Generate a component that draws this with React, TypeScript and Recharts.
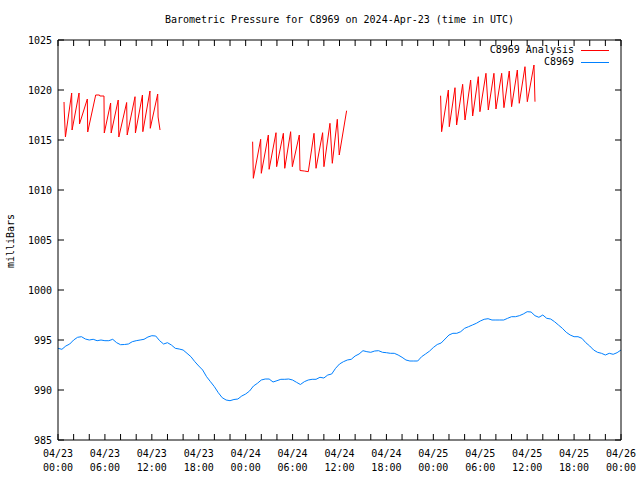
import React from 'react';
import { LineChart, Line, XAxis, YAxis } from 'recharts';

// Observed pressure (C8969), every half hour from 04/23 00:00 UTC
const obsValues = [
  994.17, 994.07, 994.4, 994.6, 995.0, 995.27, 995.33, 995.1, 995.0, 995.07, 994.93, 995.0,
  994.93, 994.93, 995.07, 994.73, 994.53, 994.55, 994.6, 994.83, 994.93, 995.0, 995.07, 995.3,
  995.43, 995.4, 994.93, 994.6, 994.73, 994.5, 994.17, 994.1, 994.0, 993.67, 993.33, 992.83,
  992.4, 992.0, 991.33, 990.83, 990.33, 989.73, 989.23, 989.0, 988.93, 989.05, 989.1, 989.4,
  989.6, 989.9, 990.4, 990.67, 991.0, 991.1, 991.1, 990.8, 990.93, 991.07, 991.07, 991.1,
  991.0, 990.77, 990.55, 990.83, 991.0, 991.07, 991.07, 991.27, 991.2, 991.5, 991.6, 992.17,
  992.6, 992.83, 993.0, 993.07, 993.4, 993.6, 993.93, 993.83, 993.77, 993.9, 993.93, 993.77,
  993.73, 993.67, 993.67, 993.5, 993.27, 993.0, 992.9, 992.9, 992.9, 993.33, 993.6, 993.88,
  994.25, 994.55, 994.7, 995.1, 995.5, 995.67, 995.67, 995.83, 996.17, 996.33, 996.5, 996.67,
  996.9, 997.07, 997.13, 997.0, 997.0, 997.0, 997.0, 997.17, 997.33, 997.33, 997.43, 997.6,
  997.83, 997.8, 997.43, 997.27, 997.5, 997.17, 997.1, 996.83, 996.5, 996.17, 995.77, 995.5,
  995.33, 995.33, 995.17, 994.73, 994.4, 994.0, 993.77, 993.67, 993.5, 993.67, 993.57, 993.73,
  994.0,
];
const obsStepHours = 0.5;

// Analysis segments (hours since 04/23 00:00, mb)
const seg1Hours = [0.77, 0.8, 0.95, 1.75, 1.8, 2.69, 2.75, 3.75, 3.8, 4.82, 5.3, 5.35, 5.88, 5.92, 6.73, 6.8, 7.7, 7.78, 8.78, 8.85, 9.85, 9.9, 10.8, 10.85, 11.76, 11.8, 12.75, 12.8, 13.05];
const seg1Values = [1018.8, 1017.9, 1015.3, 1019.7, 1016.0, 1019.7, 1016.6, 1019.1, 1015.8, 1019.5, 1019.5, 1019.4, 1019.4, 1015.7, 1018.7, 1015.7, 1019.0, 1015.3, 1018.75, 1015.5, 1019.33, 1015.7, 1019.5, 1015.83, 1019.9, 1016.17, 1019.6, 1017.3, 1016.0];

const seg2Hours = [24.89, 24.98, 25.92, 26.0, 26.9, 27.0, 27.88, 27.96, 28.82, 29.0, 29.75, 29.97, 30.86, 30.95, 31.5, 32.01, 32.74, 33.0, 33.84, 34.01, 34.78, 35.08, 35.72, 35.97, 36.91];
const seg2Values = [1014.83, 1011.17, 1015.07, 1011.67, 1015.5, 1012.07, 1015.73, 1012.33, 1015.67, 1012.17, 1015.83, 1012.33, 1015.5, 1011.95, 1011.9, 1011.83, 1015.67, 1012.17, 1015.73, 1012.33, 1016.67, 1012.67, 1017.07, 1013.5, 1017.93];

const seg3Hours = [48.93, 49.06, 49.92, 50.04, 50.77, 50.98, 51.75, 52.05, 52.77, 53.03, 53.75, 53.96, 54.73, 55.03, 55.75, 56.01, 56.74, 57.03, 57.71, 58.01, 58.74, 58.99, 59.72, 60.02, 60.87, 61.0];
const seg3Values = [1019.43, 1015.83, 1020.0, 1016.33, 1020.23, 1016.5, 1020.57, 1017.0, 1021.0, 1017.4, 1021.33, 1017.83, 1021.67, 1018.0, 1021.67, 1018.1, 1021.67, 1018.23, 1021.9, 1018.33, 1022.0, 1018.67, 1022.33, 1018.83, 1022.5, 1018.83];

const gapHours = [13.5, 43.0];

const yTicks = [985, 990, 995, 1000, 1005, 1010, 1015, 1020, 1025];
const xMinorTicks = [0, 2, 4, 6, 8, 10, 12, 14, 16, 18, 20, 22, 24, 26, 28, 30, 32, 34, 36, 38, 40, 42, 44, 46, 48, 50, 52, 54, 56, 58, 60, 62, 64, 66, 68, 70, 72];
const xMajorTicks = [0, 6, 12, 18, 24, 30, 36, 42, 48, 54, 60, 66, 72];
const tickDates = ['04/23', '04/23', '04/23', '04/23', '04/24', '04/24', '04/24', '04/24', '04/25', '04/25', '04/25', '04/25', '04/26'];
const tickTimes = ['00:00', '06:00', '12:00', '18:00', '00:00', '06:00', '12:00', '18:00', '00:00', '06:00', '12:00', '18:00', '00:00'];

const seriesNames = ['C8969 Analysis', 'C8969'];
const seriesColors = ['#ff0000', '#0080ff'];

const FONT = '"DejaVu Sans Mono", "Liberation Mono", monospace';

const obsData = obsValues.map((v, i) => ({ h: i * obsStepHours, v }));
const toPts = (hs: number[], vs: number[]) => hs.map((h, i) => ({ h, v: vs[i] as number | null }));
const analysisData = [
  ...toPts(seg1Hours, seg1Values),
  { h: gapHours[0], v: null },
  ...toPts(seg2Hours, seg2Values),
  { h: gapHours[1], v: null },
  ...toPts(seg3Hours, seg3Values),
];

const XTick = (props: any) => {
  const { x, y, payload } = props;
  const i = xMajorTicks.indexOf(payload.value);
  if (i < 0) return <g />;
  return (
    <text x={x} y={y} textAnchor="middle" fontFamily={FONT} fontSize={10} fill="#000">
      <tspan x={x} dy={11}>{tickDates[i]}</tspan>
      <tspan x={x} dy={14}>{tickTimes[i]}</tspan>
    </text>
  );
};

const YTick = (props: any) => {
  const { x, y, payload } = props;
  return (
    <text x={x} y={y} dy={4} textAnchor="end" fontFamily={FONT} fontSize={10} fill="#000">
      {payload.value}
    </text>
  );
};

const Empty = () => <g />;

export default function App() {
  return (
    <div style={{ position: 'absolute', left: 0, top: 0, width: 640, height: 480, background: '#fff' }}>
      <div
        style={{
          position: 'absolute', left: 0, top: 13, width: 679, height: 14, lineHeight: '14px',
          textAlign: 'center', fontFamily: FONT, fontSize: 10, color: '#000', whiteSpace: 'pre',
        }}
      >
        Barometric Pressure for C8969 on 2024-Apr-23 (time in UTC)
      </div>
      <div style={{ position: 'absolute', left: 11, top: 241, width: 0, height: 0 }}>
        <div
          style={{
            position: 'absolute', left: -40, top: -7, width: 80, height: 14, lineHeight: '14px',
            textAlign: 'center', transform: 'rotate(-90deg)', fontFamily: FONT, fontSize: 10, color: '#000',
          }}
        >
          milliBars
        </div>
      </div>
      <LineChart width={640} height={480} margin={{ top: 30, right: 9, bottom: 10, left: 8 }}>
        <XAxis
          xAxisId="b"
          type="number"
          dataKey="h"
          domain={[0, 72]}
          ticks={xMinorTicks}
          interval={0}
          allowDataOverflow
          orientation="bottom"
          height={30}
          tickSize={-6}
          tickMargin={12}
          stroke="#000"
          tick={<XTick />}
        />
        <XAxis
          xAxisId="t"
          type="number"
          dataKey="h"
          domain={[0, 72]}
          ticks={xMinorTicks}
          interval={0}
          allowDataOverflow
          orientation="top"
          height={10}
          tickSize={-6}
          stroke="#000"
          tick={<Empty />}
        />
        <YAxis
          yAxisId="l"
          type="number"
          domain={[985, 1025]}
          ticks={yTicks}
          interval={0}
          allowDataOverflow
          orientation="left"
          width={50}
          tickSize={-6}
          tickMargin={12}
          stroke="#000"
          tick={<YTick />}
        />
        <YAxis
          yAxisId="r"
          type="number"
          domain={[985, 1025]}
          ticks={yTicks}
          interval={0}
          allowDataOverflow
          orientation="right"
          width={10}
          tickSize={-6}
          stroke="#000"
          tick={<Empty />}
        />
        <Line
          xAxisId="b"
          yAxisId="l"
          data={analysisData}
          dataKey="v"
          name={seriesNames[0]}
          stroke={seriesColors[0]}
          strokeWidth={1}
          dot={false}
          activeDot={false}
          type="linear"
          isAnimationActive={false}
        />
        <Line
          xAxisId="b"
          yAxisId="l"
          data={obsData}
          dataKey="v"
          name={seriesNames[1]}
          stroke={seriesColors[1]}
          strokeWidth={1}
          dot={false}
          activeDot={false}
          type="linear"
          isAnimationActive={false}
        />
      </LineChart>
      <div style={{ position: 'absolute', left: 0, top: 44, width: 609, fontFamily: FONT, fontSize: 10, color: '#000' }}>
        {seriesNames.map((name, i) => (
          <div key={name} style={{ display: 'flex', justifyContent: 'flex-end', alignItems: 'center', height: 12 }}>
            <span style={{ lineHeight: '12px', whiteSpace: 'pre' }}>{name}</span>
            <div style={{ marginLeft: 7, width: 28, height: 0, borderTop: `1px solid ${seriesColors[i]}` }} />
          </div>
        ))}
      </div>
    </div>
  );
}
